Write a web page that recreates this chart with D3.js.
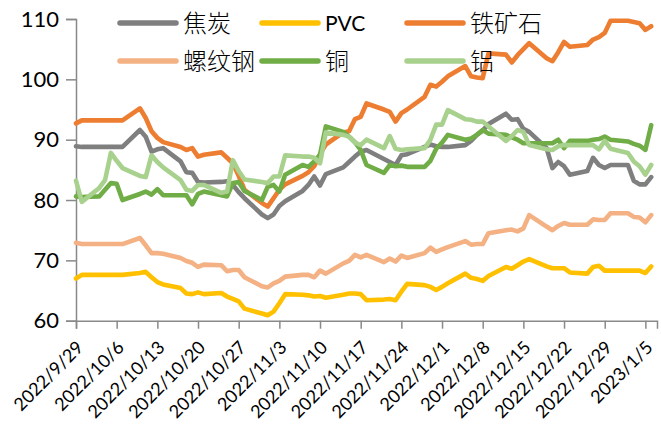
<!DOCTYPE html>
<html>
<head>
<meta charset="utf-8">
<script src="https://cdn.jsdelivr.net/npm/d3@7"></script>
<style>
  body { margin: 0; background: #fff; }
  svg { display: block; }
  .tick text { font-family: Lato, "Liberation Sans", sans-serif; fill: #000; }
  .legend text { font-family: "Noto Sans CJK SC", sans-serif; font-weight: 300; }
</style>
</head>
<body>
<svg id="chart" width="661" height="439"></svg>
<script>
// trading days (weekdays, holidays filled with the last value for domestic contracts)
var dates = ['2022-09-29','2022-09-30','2022-10-03','2022-10-04','2022-10-05','2022-10-06','2022-10-07',
  '2022-10-10','2022-10-11','2022-10-12','2022-10-13','2022-10-14',
  '2022-10-17','2022-10-18','2022-10-19','2022-10-20','2022-10-21',
  '2022-10-24','2022-10-25','2022-10-26','2022-10-27','2022-10-28',
  '2022-10-31','2022-11-01','2022-11-02','2022-11-03','2022-11-04',
  '2022-11-07','2022-11-08','2022-11-09','2022-11-10','2022-11-11',
  '2022-11-14','2022-11-15','2022-11-16','2022-11-17','2022-11-18',
  '2022-11-21','2022-11-22','2022-11-23','2022-11-24','2022-11-25',
  '2022-11-28','2022-11-29','2022-11-30','2022-12-01','2022-12-02',
  '2022-12-05','2022-12-06','2022-12-07','2022-12-08','2022-12-09',
  '2022-12-12','2022-12-13','2022-12-14','2022-12-15','2022-12-16',
  '2022-12-19','2022-12-20','2022-12-21','2022-12-22','2022-12-23',
  '2022-12-26','2022-12-27','2022-12-28','2022-12-29','2022-12-30',
  '2023-01-02','2023-01-03','2023-01-04','2023-01-05','2023-01-06'];

var coke = [88.9,88.8,88.8,88.8,88.8,88.8,88.8,
  91.6,90.5,88.0,88.4,88.6,
  86.4,84.6,84.5,83.0,82.9,
  83.0,83.1,82.5,81.3,80.3,
  77.6,77.0,77.6,79.0,79.8,
  81.5,82.5,83.9,82.4,84.3,
  85.4,86.3,87.2,88.0,88.3,
  86.8,86.3,85.8,87.4,87.6,
  88.8,89.2,88.9,88.8,88.8,
  89.1,89.8,90.8,91.5,92.6,
  94.3,93.3,93.4,91.8,91.3,
  88.6,85.3,86.3,85.6,84.2,
  84.8,87.0,85.8,85.3,85.8,
  85.8,83.2,82.6,82.6,83.8];

var pvc = [67.0,67.6,67.6,67.6,67.6,67.6,67.6,
  67.9,68.1,67.2,66.4,66.0,
  65.4,64.5,64.4,64.7,64.4,
  64.6,64.0,63.6,63.2,62.0,
  61.2,60.9,61.5,62.9,64.4,
  64.3,64.2,64.0,64.1,63.8,
  64.3,64.5,64.5,64.4,63.4,
  63.5,63.6,63.4,64.8,66.1,
  65.9,65.6,65.1,65.6,66.2,
  67.8,67.1,66.9,66.6,67.4,
  68.9,68.6,69.2,69.8,70.2,
  69.0,68.7,68.7,68.7,68.0,
  67.8,68.9,69.1,68.3,68.3,
  68.3,68.3,68.3,67.9,69.0];

var ironOre = [92.7,93.2,93.2,93.2,93.2,93.2,93.2,
  95.2,93.6,91.4,90.3,89.6,
  88.8,88.3,88.6,87.2,87.5,
  87.9,87.0,86.1,84.0,81.7,
  79.5,78.9,80.3,81.7,82.6,
  84.0,84.6,85.6,87.6,89.2,
  91.2,91.4,93.4,93.8,96.0,
  95.0,94.6,93.0,94.4,95.0,
  97.1,99.1,98.8,99.6,100.5,
  102.2,100.5,100.3,100.2,104.3,
  104.1,102.8,104.0,105.0,106.0,
  103.5,103.0,104.5,106.2,105.4,
  105.7,106.6,107.0,107.7,109.7,
  109.7,109.5,109.3,108.2,108.8];

var rebar = [72.9,72.7,72.7,72.7,72.7,72.7,72.7,
  73.7,72.5,71.2,71.2,71.1,
  70.4,69.9,69.6,68.9,69.3,
  69.2,68.2,68.4,68.4,67.2,
  65.7,65.5,66.2,66.6,67.3,
  67.6,67.6,67.2,68.3,67.8,
  69.5,69.9,70.9,70.5,70.9,
  69.7,70.3,69.8,70.8,70.4,
  71.2,72.1,71.4,71.8,72.2,
  73.2,72.6,72.7,72.7,74.5,
  75.0,75.1,74.8,75.3,77.5,
  75.6,75.0,75.7,76.2,75.9,
  75.9,76.8,76.7,76.7,77.8,
  77.8,77.2,77.1,76.3,77.5];

var copper = [80.6,80.5,80.6,81.7,82.8,82.7,80.0,
  81.0,81.4,80.9,81.8,80.8,
  80.8,80.8,79.3,81.0,81.4,
  80.8,80.6,82.8,83.0,81.5,
  80.0,82.2,82.5,81.4,84.2,
  85.8,85.5,86.4,87.5,92.2,
  91.3,90.5,89.6,88.3,85.8,
  84.5,85.8,85.6,85.7,85.5,
  85.5,86.5,88.5,89.5,90.8,
  90.0,90.2,90.8,91.6,91.0,
  90.8,90.4,90.0,89.4,89.4,
  89.4,89.4,90.0,88.6,89.8,
  89.8,90.0,90.1,90.5,90.0,
  89.7,89.3,89.0,88.3,92.4];

var aluminum = [83.2,79.7,82.0,83.3,87.8,86.5,85.3,
  84.0,83.8,87.4,86.3,85.4,
  83.3,81.7,81.5,82.5,82.5,
  81.2,81.4,86.6,84.8,83.4,
  83.0,82.8,83.9,83.9,87.4,
  87.2,87.2,87.0,86.1,91.2,
  90.8,90.5,89.5,89.1,90.0,
  88.6,90.6,88.5,88.3,88.4,
  88.6,90.0,92.5,92.5,94.9,
  93.4,93.3,93.0,93.0,92.2,
  89.8,90.6,91.6,91.3,89.1,
  88.4,88.3,88.9,89.1,89.1,
  89.1,89.1,88.4,89.8,88.5,
  87.8,86.4,85.6,84.2,85.8];

var seriesNames = ['焦炭', 'PVC', '铁矿石', '螺纹钢', '铜', '铝'];
var seriesColors = ['#7f7f7f', '#ffc000', '#ed7d31', '#f4b183', '#70ad47', '#a9d18e'];
var seriesValues = [coke, pvc, ironOre, rebar, copper, aluminum];
var yTicks = [60, 70, 80, 90, 100, 110];
var xTickDates = ['2022-09-29','2022-10-06','2022-10-13','2022-10-20','2022-10-27','2022-11-03',
  '2022-11-10','2022-11-17','2022-11-24','2022-12-01','2022-12-08','2022-12-15',
  '2022-12-22','2022-12-29','2023-01-05'];
var xDomain = ['2022-09-29', '2023-01-07'];

var parse = d3.timeParse('%Y-%m-%d');
var fmt = d3.timeFormat('%Y/%-m/%-d');
var svg = d3.select('#chart');
var axisColor = '#898989';

var x = d3.scaleTime()
    .domain(xDomain.map(parse))
    .range([76, 657]);
var y = d3.scaleLinear()
    .domain([60, 110])
    .range([320.7, 19]);

// y axis
var yAxis = svg.append('g')
    .attr('transform', 'translate(76,0)')
    .call(d3.axisLeft(y).tickValues(yTicks).tickSize(10).tickPadding(7));
yAxis.select('.domain').attr('stroke', axisColor).attr('stroke-width', 1.5);
yAxis.selectAll('.tick line').attr('stroke', axisColor).attr('stroke-width', 1.5);
yAxis.selectAll('.tick text').style('font-size', '22px');

// x axis
var xAxis = svg.append('g')
    .attr('transform', 'translate(0,320.7)')
    .call(d3.axisBottom(x).tickValues(xTickDates.map(parse)).tickFormat(fmt).tickSizeOuter(0).tickSize(8));
xAxis.select('.domain').attr('stroke', axisColor).attr('stroke-width', 1.5);
xAxis.selectAll('.tick line').attr('stroke', axisColor).attr('stroke-width', 1.5);
xAxis.selectAll('.tick text')
    .style('font-size', '18px')
    .attr('text-anchor', 'end')
    .attr('dy', null)
    .attr('y', 0)
    .attr('transform', 'translate(8,28) rotate(-45)');

// lines
var line = d3.line()
    .x(function (d, i) { return x(parse(dates[i])); })
    .y(function (d) { return y(d); });

seriesValues.forEach(function (vals, k) {
    svg.append('path')
        .datum(vals)
        .attr('fill', 'none')
        .attr('stroke', seriesColors[k])
        .attr('stroke-width', 4.6)
        .attr('stroke-linejoin', 'round')
        .attr('stroke-linecap', 'round')
        .attr('d', line);
});

// legend, 3 columns x 2 rows
var legend = svg.append('g').attr('class', 'legend');
var colX = [120, 262, 407];
var rowY = [23, 61];
seriesNames.forEach(function (name, k) {
    var g = legend.append('g')
        .attr('transform', 'translate(' + colX[k % 3] + ',' + rowY[Math.floor(k / 3)] + ')');
    g.append('line')
        .attr('x1', 0).attr('x2', 56)
        .attr('stroke', seriesColors[k])
        .attr('stroke-width', 5.5)
        .attr('stroke-linecap', 'round');
    var t = g.append('text')
        .attr('x', 63)
        .attr('dy', '0.36em')
        .style('font-size', '24px')
        .text(name);
    if (name === 'PVC') {
        t.style('font-family', 'Lato, sans-serif')
            .style('font-weight', 400)
            .style('font-size', '21px');
    }
});
</script>
</body>
</html>
